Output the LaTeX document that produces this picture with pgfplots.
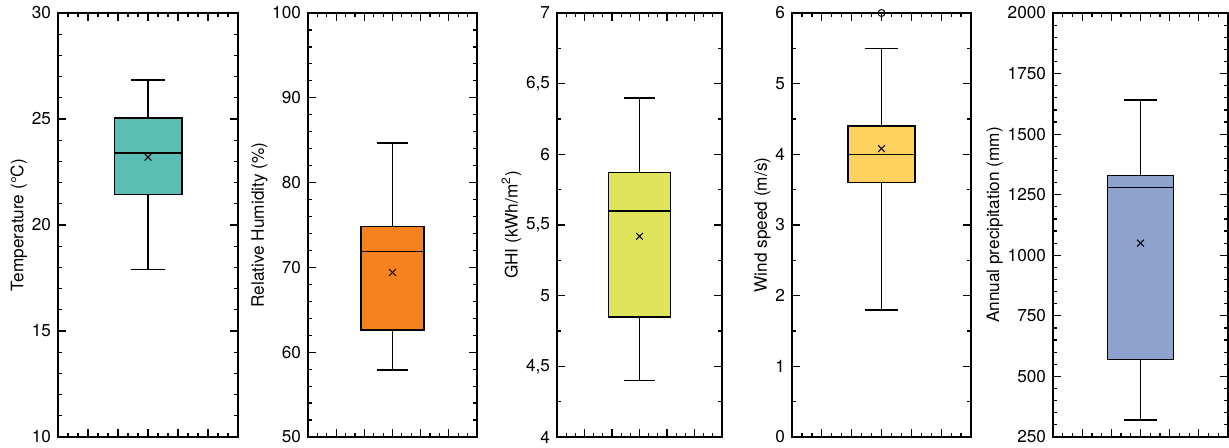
\documentclass[border=0pt]{standalone}
\usepackage{fontspec}
\setmainfont{TeX Gyre Heros}
\usepackage{pgfplots}
\pgfplotsset{compat=1.18}
\usepgfplotslibrary{statistics}
\definecolor{cteal}{RGB}{91,190,180}
\definecolor{corange}{RGB}{245,130,30}
\definecolor{cyellow}{RGB}{224,228,90}
\definecolor{cgold}{RGB}{255,210,95}
\definecolor{cblue}{RGB}{141,162,205}
\pgfplotsset{
 panel/.style={
  scale only axis, height=212pt, anchor=south west,
  xmin=0, xmax=1,
  xtick={0,0.166667,0.333333,0.5,0.666667,0.833333,1},
  minor xtick={0.055556,0.111111,0.222222,0.277778,0.388889,0.444444,0.555556,0.611111,0.722222,0.777778,0.888889,0.944444},
  xticklabels={},
  yticklabel pos=left, ytick pos=both, xtick pos=both,
  tick align=inside,
  major tick length=4pt, minor tick length=2pt,
  axis line style={line width=0.75pt},
  tick style={black, line width=0.6pt},
  ticklabel style={font=\fontsize{8.6}{10}\selectfont},
  label style={font=\fontsize{8.6}{10}\selectfont},
  ylabel shift=-4.5pt,
  /pgf/number format/assume math mode=true,
  /pgf/number format/1000 sep={},
  boxplot/draw direction=y,
  clip=false,
 },
 bx/.style={boxplot prepared={#1, draw position=0.5, box extend=0.375, whisker extend=0.1875}, draw=black, line width=0.75pt},
 meanmark/.style={only marks, mark=x, mark size=2.4pt, mark options={line width=0.5pt, black}},
}
\begin{document}
\begin{tikzpicture}
\useasboundingbox (0,0) rectangle (614.5pt,223.5pt);
% Panel 1
\begin{axis}[panel, at={(29pt,5pt)}, width=90pt, ymin=10, ymax=30, ytick distance=5, minor y tick num=4, ylabel={Temperature (°C)}]
\addplot[bx={lower whisker=17.9, lower quartile=21.43, median=23.4, upper quartile=25.05, upper whisker=26.85}, fill=cteal] coordinates {};
\addplot[meanmark] coordinates {(0.5,23.2)};
\end{axis}
% Panel 2
\begin{axis}[panel, at={(154pt,5pt)}, width=84.5pt, ymin=50, ymax=100, ytick distance=10, minor y tick num=4, ylabel={Relative Humidity (\%)}]
\addplot[bx={lower whisker=57.9, lower quartile=62.6, median=71.9, upper quartile=74.8, upper whisker=84.7}, fill=corange] coordinates {};
\addplot[meanmark] coordinates {(0.5,69.4)};
\end{axis}
% Panel 3
\begin{axis}[panel, at={(278.5pt,5pt)}, width=82.5pt, ymin=4, ymax=7, ytick={4,4.5,5,5.5,6,6.5,7}, minor y tick num=1, /pgf/number format/use comma, ylabel={GHI (kWh/m\textsuperscript{2})}]
\addplot[bx={lower whisker=4.40, lower quartile=4.85, median=5.60, upper quartile=5.87, upper whisker=6.40}, fill=cyellow] coordinates {};
\addplot[meanmark] coordinates {(0.5,5.42)};
\end{axis}
% Panel 4
\begin{axis}[panel, at={(396pt,5pt)}, width=89.5pt, ymin=0, ymax=6, ytick distance=1, minor y tick num=1, ylabel={Wind speed (m/s)}]
\addplot[bx={lower whisker=1.8, lower quartile=3.6, median=4.0, upper quartile=4.4, upper whisker=5.5}, fill=cgold] coordinates {};
\addplot[meanmark] coordinates {(0.5,4.08)};
\addplot[only marks, mark=o, mark size=1.75pt, mark options={line width=0.5pt, black}] coordinates {(0.5,6)};
\end{axis}
% Panel 5
\begin{axis}[panel, at={(526.5pt,5pt)}, width=87.5pt, ymin=250, ymax=2000, ytick distance=250, minor y tick num=4, ylabel={Annual precipitation (mm)}]
\addplot[bx={lower whisker=320, lower quartile=570, median=1280, upper quartile=1330, upper whisker=1640}, fill=cblue] coordinates {};
\addplot[meanmark] coordinates {(0.5,1050)};
\end{axis}
\end{tikzpicture}
\end{document}
